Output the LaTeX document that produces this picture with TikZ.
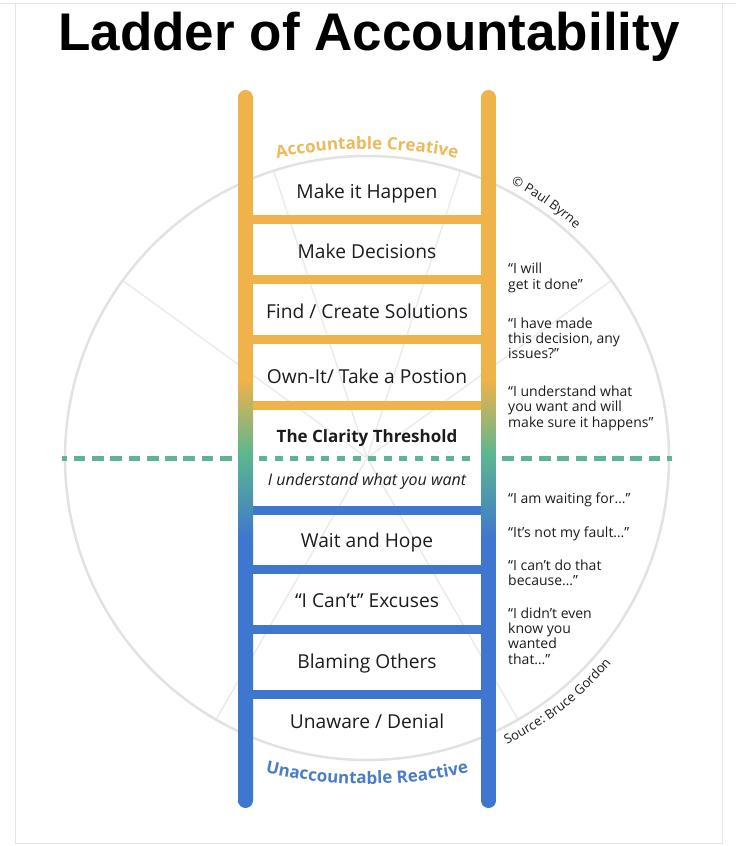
\documentclass[tikz,border=0pt]{standalone}
\usepackage{fontspec}
\setmainfont{Open Sans}
\newfontfamily\titlefont{Liberation Sans}
\usetikzlibrary{decorations.text}
\definecolor{railorange}{HTML}{F0B24A}
\definecolor{railblue}{HTML}{3F76CF}
\definecolor{railgreen}{HTML}{5BB78F}
\definecolor{dashgreen}{HTML}{5DB592}
\definecolor{circgray}{HTML}{E2E2E2}
\definecolor{spokegray}{HTML}{EAEAEA}
\definecolor{framegray}{HTML}{E4E4E4}
\definecolor{txt}{HTML}{1C1C1C}
\definecolor{topcurve}{HTML}{EBBA5B}
\definecolor{botcurve}{HTML}{4A7DC6}
\pgfdeclareverticalshading{railshade}{100bp}{color(0bp)=(railblue); color(43.7bp)=(railblue); color(49.6bp)=(railgreen); color(54.8bp)=(railorange); color(100bp)=(railorange)}
\begin{document}
\begin{tikzpicture}[x=1pt,y=-1pt,
  rungtext/.style={font=\fontsize{19.2}{21}\selectfont, text=txt, anchor=base, inner sep=0pt},
  quoteline/.style={font=\fontsize{14}{15.5}\selectfont, text=txt, anchor=base west, inner sep=0pt},
  orangerung/.style={draw=railorange, line width=9pt},
  bluerung/.style={draw=railblue, line width=9pt},
  spoke/.style={draw=spokegray, line width=1.4pt},
  threshold/.style={draw=dashgreen, line width=5pt}]
\useasboundingbox (0,0) rectangle (736,846);
% frame
\draw[framegray, line width=1pt] (0,3) -- (736,3);
\draw[framegray, line width=1pt] (15,3) -- (15,843) -- (722,843) -- (722,3);
% title
\node[anchor=base, inner sep=0pt, text=black, font=\titlefont\bfseries\fontsize{53}{56}\selectfont] (title) at (369,50) {Ladder of Accountability};
% wheel
\coordinate (C) at (367,458);
\foreach \a in {36,72,108,144,240,300}
  \draw[spoke] (C) -- ++(-\a:302);
\draw[circgray, line width=2.5pt] (C) circle[radius=302];
% clarity threshold dashed line
\draw[threshold, dash pattern=on 11.7pt off 6.6pt, dash phase=6.7pt] (62,458) -- (236,458);
\draw[threshold, dash pattern=on 11.7pt off 6.6pt, dash phase=6.7pt] (672,458) -- (498,458);
\draw[threshold, dash pattern=on 8pt off 7.6pt] (259,458) -- (475,458);
% rungs
\foreach \y in {219,279,339,405}
  \draw[orangerung] (245,\y) -- (489,\y);
\foreach \y in {510,569,629,694}
  \draw[bluerung] (245,\y) -- (489,\y);
% rails
\shade[shading=railshade, rounded corners=7.5pt] (238,90) rectangle (253,808);
\shade[shading=railshade, rounded corners=7.5pt] (481,90) rectangle (496,808);
% curved headings
\path[decorate, decoration={text along path, text align=center,
  text={|\bfseries\fontsize{17}{17}\selectfont\color{topcurve}|Accountable Creative}}]
  ([shift={(-112:450)}]367,599) arc[start angle=-112, end angle=-68, radius=450];
\path[decorate, decoration={text along path, text align=center,
  text={|\bfseries\fontsize{17}{17}\selectfont\color{botcurve}|Unaccountable Reactive}}]
  ([shift={(-248:450)}]367,334) arc[start angle=-248, end angle=-292, radius=450];
% credits along the wheel
\path[decorate, decoration={text along path, text align=center,
  text={|\fontsize{13}{13}\selectfont\color{txt}|© Paul Byrne}}]
  ([shift={(-72:310)}]367,458) arc[start angle=-72, end angle=-38, radius=310];
\path[decorate, decoration={text along path, text align=center,
  text={|\fontsize{13}{13}\selectfont\color{txt}|Source: Bruce Gordon}}]
  ([shift={(70:319)}]367,458) arc[start angle=70, end angle=34, radius=319];
% ladder steps
\node[rungtext] (s1) at (367,198) {Make it Happen};
\node[rungtext] (s2) at (367,258) {Make Decisions};
\node[rungtext] (s3) at (367,318) {Find / Create Solutions};
\node[rungtext] (s4) at (367,383) {Own-It/ Take a Postion};
\node[rungtext, font=\bfseries\fontsize{17}{20}\selectfont] (s5) at (367,442) {The Clarity Threshold};
\node[rungtext, font=\itshape\fontsize{16}{18}\selectfont] (s6) at (367,485) {I understand what you want};
\node[rungtext] (s7) at (367,547) {Wait and Hope};
\node[rungtext] (s8) at (367,607) {“I Can’t” Excuses};
\node[rungtext] (s9) at (367,668) {Blaming Others};
\node[rungtext] (s10) at (367,728) {Unaware / Denial};
% quotes
\node[quoteline] (q1a) at (508,273) {“I will};
\node[quoteline] (q1b) at (508,289) {get it done”};
\node[quoteline] (q2a) at (508,328) {“I have made};
\node[quoteline] (q2b) at (508,343) {this decision, any};
\node[quoteline] (q2c) at (508,358) {issues?”};
\node[quoteline] (q3a) at (508,396) {“I understand what};
\node[quoteline] (q3b) at (508,411) {you want and will};
\node[quoteline] (q3c) at (508,427) {make sure it happens”};
\node[quoteline] (q4) at (508,503) {“I am waiting for…”};
\node[quoteline] (q5) at (508,537) {“It’s not my fault…”};
\node[quoteline] (q6a) at (508,570) {“I can’t do that};
\node[quoteline] (q6b) at (508,585) {because…”};
\node[quoteline] (q7a) at (508,618) {“I didn’t even};
\node[quoteline] (q7b) at (508,633) {know you};
\node[quoteline] (q7c) at (508,648) {wanted};
\node[quoteline] (q7d) at (508,664) {that…”};
\end{tikzpicture}
\end{document}
